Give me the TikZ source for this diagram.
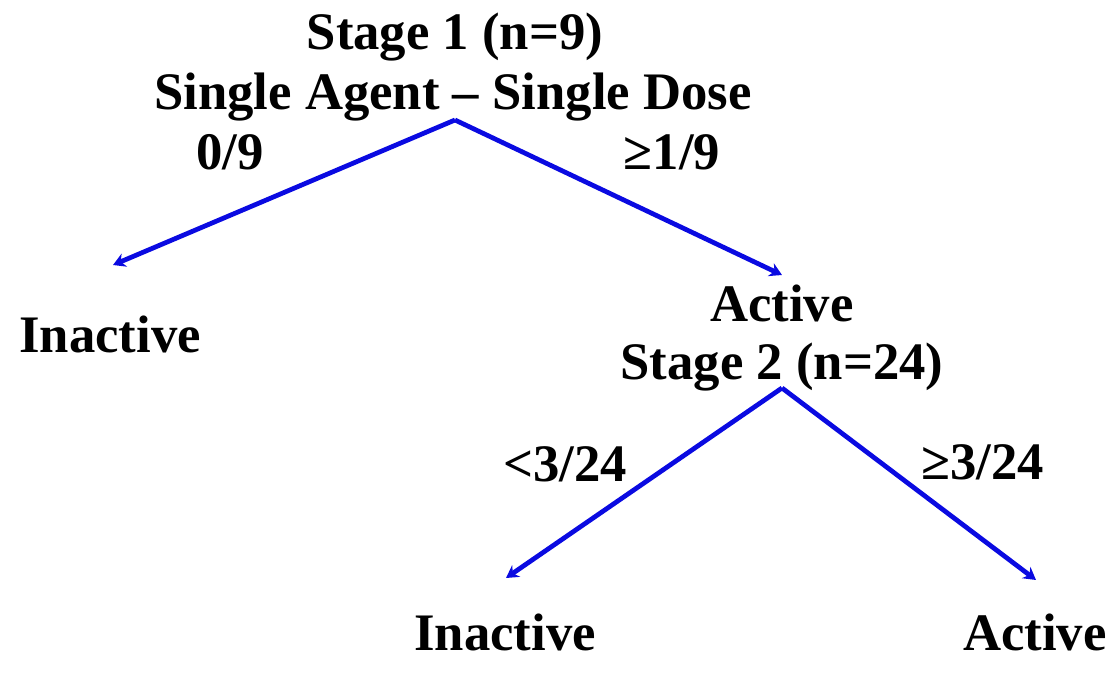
\documentclass[tikz,border=0pt]{standalone}
\usepackage{fontspec}
\setmainfont{Liberation Serif}
\usetikzlibrary{arrows.meta}
\definecolor{branchblue}{RGB}{10,10,225}
\begin{document}
\begin{tikzpicture}[x=0.02cm, y=-0.02cm,
		lbl/.style={anchor=base, inner sep=0pt, font=\fontsize{30}{36}\selectfont\bfseries},
		branch/.style={draw=branchblue, line width=2.7pt, -{Stealth[length=7pt, width=8pt]}}]
		\useasboundingbox (0,0) rectangle (1113,675);

		% stage 1
		\node[lbl] (stage1) at (455,50) {Stage 1 (n=9)};
		\node[lbl] (agent) at (453,110) {Single Agent -- Single Dose};
		\coordinate (top1) at (455,120);
		\coordinate (end1l) at (113,265);
		\coordinate (end1r) at (782,275);
		\node[lbl] (zero9) at (230,170) {0/9};
		\node[lbl] (one9) at (672,170) {≥1/9};
		\node[lbl] (inact1) at (110,353) {Inactive};
		\node[lbl] (act1) at (782,322) {Active};
		\draw[branch] (top1) -- (end1l);
		\draw[branch] (top1) -- (end1r);

		% stage 2
		\node[lbl] (stage2) at (782,380) {Stage 2 (n=24)};
		\coordinate (top2) at (782,388);
		\coordinate (end2l) at (506,578);
		\coordinate (end2r) at (1036,580);
		\node[lbl] (less3) at (565,482) {<3/24};
		\node[lbl] (more3) at (983,480) {≥3/24};
		\node[lbl] (inact2) at (505,650) {Inactive};
		\node[lbl] (act2) at (1035,650) {Active};
		\draw[branch] (top2) -- (end2l);
		\draw[branch] (top2) -- (end2r);
\end{tikzpicture}
\end{document}
